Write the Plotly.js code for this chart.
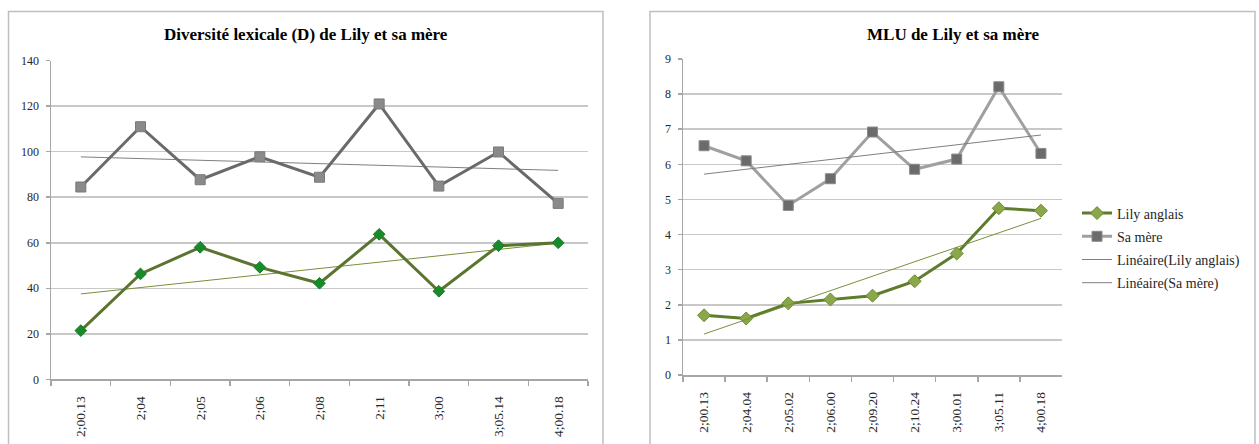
<!DOCTYPE html>
<html>
<head>
<meta charset="utf-8">
<script src="https://cdn.plot.ly/plotly-3.0.1.min.js"></script>
<style>
  html, body { margin: 0; padding: 0; background: #ffffff; }
  #chart { width: 1259px; height: 444px; }
</style>
</head>
<body>
<div id="chart"></div>
<script>
// ---- Data ----
const titleLeft = 'Diversité lexicale (D) de Lily et sa mère';
const titleRight = 'MLU de Lily et sa mère';

const catsD = ['2;00.13', '2;04', '2;05', '2;06', '2;08', '2;11', '3;00', '3;05.14', '4;00.18'];
const lilyD = [21.4, 46.3, 58.0, 49.2, 42.2, 63.7, 38.7, 58.7, 60.0];
const mereD = [84.5, 111.0, 87.7, 97.8, 88.8, 121.0, 84.9, 99.9, 77.3];

const catsMLU = ['2;00.13', '2;04.04', '2;05.02', '2;06.00', '2;09.20', '2;10.24', '3;00.01', '3;05.11', '4;00.18'];
const lilyMLU = [1.70, 1.61, 2.04, 2.15, 2.26, 2.67, 3.46, 4.75, 4.68];
const mereMLU = [6.53, 6.10, 4.83, 5.59, 6.92, 5.86, 6.15, 8.21, 6.31];

const seriesNames = ['Lily anglais', 'Sa mère', 'Linéaire(Lily anglais)', 'Linéaire(Sa mère)'];

// Linear trend (least squares over category index 1..n), like the spreadsheet "Linéaire" trendline
function linearTrend(vals) {
  const n = vals.length;
  let sx = 0, sy = 0, sxx = 0, sxy = 0;
  vals.forEach((v, i) => { const x = i + 1; sx += x; sy += v; sxx += x * x; sxy += x * v; });
  const b = (n * sxy - sx * sy) / (n * sxx - sx * sx);
  const a = (sy - b * sx) / n;
  return vals.map((_, i) => a + b * (i + 1));
}

const serif = '"Liberation Serif", "DejaVu Serif", serif';
const W = 1259, H = 444;
const px = x => x / W;
const py = y => 1 - y / H;

const traces = [
  // Left chart
  { x: catsD, y: linearTrend(mereD), xaxis: 'x', yaxis: 'y', mode: 'lines', showlegend: false,
    line: { color: '#7f7f7f', width: 1 }, hoverinfo: 'skip' },
  { x: catsD, y: linearTrend(lilyD), xaxis: 'x', yaxis: 'y', mode: 'lines', showlegend: false,
    line: { color: '#77903a', width: 1 }, hoverinfo: 'skip' },
  { x: catsD, y: mereD, xaxis: 'x', yaxis: 'y', mode: 'lines+markers', showlegend: false, name: seriesNames[1],
    line: { color: '#6a6a6a', width: 3 },
    marker: { symbol: 'square', size: 10, color: '#8a8a8a', line: { color: '#7a7a7a', width: 1 } } },
  { x: catsD, y: lilyD, xaxis: 'x', yaxis: 'y', mode: 'lines+markers', showlegend: false, name: seriesNames[0],
    line: { color: '#5b7430', width: 3 },
    marker: { symbol: 'diamond', size: 9, color: '#178a2a', line: { color: '#157a25', width: 1 } } },

  // Right chart
  { x: catsMLU, y: lilyMLU, xaxis: 'x2', yaxis: 'y2', mode: 'lines+markers', name: seriesNames[0],
    legendgroup: 'a', line: { color: '#5f7c2c', width: 3 },
    marker: { symbol: 'diamond', size: 10, color: '#8aa84a', line: { color: '#6e8b35', width: 1 } } },
  { x: catsMLU, y: mereMLU, xaxis: 'x2', yaxis: 'y2', mode: 'lines+markers', name: seriesNames[1],
    legendgroup: 'b', line: { color: '#a0a0a0', width: 3 },
    marker: { symbol: 'square', size: 10, color: '#6b6b6b', line: { color: '#8a8a8a', width: 1 } } },
  { x: catsMLU, y: linearTrend(lilyMLU), xaxis: 'x2', yaxis: 'y2', mode: 'lines', name: seriesNames[2],
    legendgroup: 'c', line: { color: '#77903a', width: 1 }, hoverinfo: 'skip' },
  { x: catsMLU, y: linearTrend(mereMLU), xaxis: 'x2', yaxis: 'y2', mode: 'lines', name: seriesNames[3],
    legendgroup: 'd', line: { color: '#7f7f7f', width: 1 }, hoverinfo: 'skip' }
];

const xCommon = {
  type: 'category', range: [-0.5, 8.5], showline: true, linecolor: '#a6a6a6', linewidth: 1.5,
  showgrid: false, zeroline: false, ticks: 'outside', tickson: 'boundaries', ticklen: 5,
  tickcolor: '#a6a6a6', tickwidth: 1.5, tickangle: -90, ticklabelstandoff: 10,
  tickfont: { family: serif, size: 13.5, color: '#262626' }, fixedrange: true
};
const yCommon = {
  showline: true, linecolor: '#a6a6a6', linewidth: 1.5, showgrid: true, gridcolor: '#c8c8c8', gridwidth: 1.5,
  zeroline: false, ticks: 'outside', ticklen: 4, tickcolor: '#a6a6a6', tickwidth: 1.5, ticklabelstandoff: 4,
  tickfont: { family: serif, size: 12, color: '#262626' }, fixedrange: true
};

const layout = {
  width: W, height: H,
  margin: { l: 0, r: 0, t: 0, b: 0 },
  paper_bgcolor: '#ffffff', plot_bgcolor: 'rgba(0,0,0,0)',
  font: { family: serif },
  showlegend: true,
  legend: {
    x: px(1077), y: py(197.5), xanchor: 'left', yanchor: 'top',
    font: { family: serif, size: 14, color: '#262626' },
    traceorder: 'grouped', tracegroupgap: 2, itemwidth: 30, bgcolor: 'rgba(0,0,0,0)'
  },
  xaxis: Object.assign({}, xCommon, { domain: [px(51), px(588)], anchor: 'y' }),
  yaxis: Object.assign({}, yCommon, { domain: [py(379.3), py(60.7)], range: [0, 140], dtick: 20, anchor: 'x' }),
  xaxis2: Object.assign({}, xCommon, { domain: [px(683), px(1062)], anchor: 'y2' }),
  yaxis2: Object.assign({}, yCommon, { domain: [py(375), py(59)], range: [0, 9], dtick: 1, anchor: 'x2' }),
  shapes: [
    { type: 'rect', xref: 'paper', yref: 'paper', x0: px(8.5), x1: px(603), y0: py(470), y1: py(11.5),
      line: { color: '#bfbfbf', width: 1.5 }, layer: 'below' },
    { type: 'rect', xref: 'paper', yref: 'paper', x0: px(650), x1: px(1255), y0: py(470), y1: py(11.5),
      line: { color: '#bfbfbf', width: 1.5 }, layer: 'below' }
  ],
  annotations: [
    { text: '<b>' + titleLeft + '</b>', xref: 'paper', yref: 'paper', x: px(305.5), y: py(34),
      xanchor: 'center', yanchor: 'middle', showarrow: false,
      font: { family: serif, size: 17, color: '#000000' } },
    { text: '<b>' + titleRight + '</b>', xref: 'paper', yref: 'paper', x: px(953), y: py(34),
      xanchor: 'center', yanchor: 'middle', showarrow: false,
      font: { family: serif, size: 17, color: '#000000' } }
  ]
};

Plotly.newPlot('chart', traces, layout, { displayModeBar: false, staticPlot: true });
</script>
</body>
</html>
